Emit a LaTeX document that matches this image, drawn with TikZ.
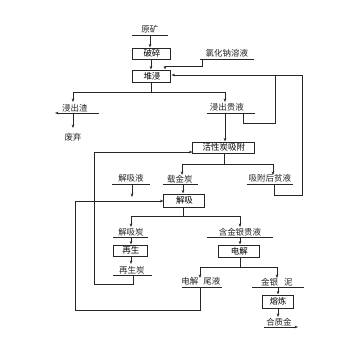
\documentclass[tikz,border=0pt]{standalone}
\usepackage{fontspec}
\newfontfamily\cjk{Noto Sans CJK SC}
\usetikzlibrary{arrows.meta}
\begin{document}
\begin{tikzpicture}[x=1pt,y=-1pt,
  ln/.style={line width=0.6pt, draw=black!85},
  ar/.style={ln, -{Stealth[length=3.5pt,width=2.6pt]}},
  bx/.style={draw=black!85, line width=1pt, inner sep=0, font=\cjk\fontsize{8.5}{9}\selectfont},
  tx/.style={inner sep=0, font=\cjk\fontsize{8.5}{9}\selectfont, text=black!85}]
\fill[white] (0,0) rectangle (360,360);
\useasboundingbox (0,0) rectangle (360,360);
% boxes
\node[bx, minimum width=38pt, minimum height=11pt] (crush) at (152,53.5) {破碎};
\node[bx, minimum width=38pt, minimum height=12pt] (heap) at (152,76) {堆浸};
\node[bx, minimum width=62pt, minimum height=11pt] (ads) at (224,147.5) {活性炭吸附};
\node[bx, minimum width=41pt, minimum height=13pt] (desorb) at (184.5,200.5) {解吸};
\node[bx, minimum width=34pt, minimum height=11pt] (regen) at (131,250.5) {再生};
\node[bx, minimum width=41pt, minimum height=12pt] (elec) at (239.5,251) {电解};
\node[bx, minimum width=31pt, minimum height=13pt] (smelt) at (278,301.5) {熔炼};
% labels
\node[tx] (ore) at (150,29) {原矿};
\node[tx] (nacl) at (227,53) {氯化钠溶液};
\node[tx] (slag) at (75,108) {浸出渣};
\node[tx] (waste) at (73,137) {废弃};
\node[tx] (preg) at (227,107) {浸出贵液};
\node[tx] (loaded) at (180,179) {载金炭};
\node[tx] (barren) at (270,178) {吸附后贫液};
\node[tx] (elu) at (131,178) {解吸液};
\node[tx] (strip) at (131,232) {解吸炭};
\node[tx] (regc) at (132,270) {再生炭};
\node[tx] (pau) at (240,232) {含金银贵液};
\node[tx] (tail) at (201,281) {电解\hspace{5pt}尾液};
\node[tx] (sludge) at (277,282) {金银\hspace{6pt}泥};
\node[tx] (bull) at (279,322) {合质金};
% underlines
\coordinate (oreL) at (132,35); \coordinate (oreR) at (168,35);
\coordinate (naclL) at (200,59); \coordinate (naclR) at (254,59);
\coordinate (slagL) at (55,113); \coordinate (slagR) at (99,113);
\coordinate (pregL) at (207,113); \coordinate (pregR) at (255,113);
\coordinate (loadL) at (163,184); \coordinate (loadR) at (198,184);
\coordinate (barL) at (247,184); \coordinate (barR) at (293,184);
\coordinate (eluL) at (112,184); \coordinate (eluR) at (150,184);
\coordinate (stripL) at (113,237); \coordinate (stripR) at (148,237);
\coordinate (regcL) at (113,275); \coordinate (regcR) at (152,275);
\coordinate (pauL) at (207,237); \coordinate (pauR) at (273,237);
\coordinate (tailL) at (182,287); \coordinate (tailR) at (222,287);
\coordinate (sludL) at (252,287); \coordinate (sludR) at (304,287);
\coordinate (bullL) at (264,327); \coordinate (bullR) at (298,327);
\foreach \a/\b in {oreL/oreR,naclL/naclR,pregL/pregR,loadL/loadR,barL/barR,eluL/eluR,stripL/stripR,regcL/regcR,pauL/pauR,tailL/tailR,sludL/sludR}
  \draw[ln] (\a) -- (\b);
\draw[ar] (slagR) -- (slagL);
\draw[ar] (bullL) -- (bullR);
% main flow
\draw[ar] (150,35) -- (crush.north -| 150,0);
\draw[ar] (crush.south -| 151,0) -- (heap.north -| 151,0);
\draw[ar] (202,59) -- (202,66) -- (165,66) -- (heap.north -| 165,0);
\coordinate (split1) at (151,92);
\draw[ln] (heap.south -| split1) -- (split1);
\draw[ar] (73,92) -- (225,92) -- (225,102);
\draw[ar] (225,92) -- (73,92) -- (73,102);
\draw[ar] (73,113) -- (73,128);
% recycle of leach liquor and barren solution
\draw[ar] (243,113) -- (243,123) -- (275,123) -- (275,75) -- (heap.east |- 0,75);
\draw[ln] (274,184) -- (274,195) -- (302,195) -- (302,75) -- (275,75);
% adsorption
\draw[ar] (225,113) -- (ads.north -| 225,0);
\coordinate (split2) at (224,164);
\draw[ln] (ads.south -| split2) -- (split2);
\draw[ar] (182,164) -- (273,164) -- (273,175);
\draw[ar] (273,164) -- (182,164) -- (182,175);
\draw[ar] (183,184) -- (desorb.north -| 183,0);
% eluent and electrolyte return into desorption
\draw[ar] (132,184) -- (132,197);
\draw[ar] (75,201) -- (desorb.west |- 0,201);
\draw[ln] (200,287) -- (200,310) -- (75,310) -- (75,201);
% desorption split
\coordinate (split3) at (183,216);
\draw[ln] (desorb.south -| split3) -- (split3);
\draw[ar] (131,216) -- (240,216) -- (240,227);
\draw[ar] (240,216) -- (131,216) -- (131,227);
\draw[ar] (131,237) -- (regen.north);
\draw[ar] (regen.south) -- (131,264);
% regenerated carbon back to adsorption
\draw[ar] (133,275) -- (133,284) -- (94,284) -- (94,152) -- (ads.west |- 0,152);
% electrolysis
\draw[ar] (240,237) -- (elec.north -| 240,0);
\coordinate (split4) at (240,267);
\draw[ln] (elec.south -| split4) -- (split4);
\draw[ar] (200,267) -- (277,267) -- (277,278);
\draw[ar] (277,267) -- (200,267) -- (200,278);
\draw[ar] (278,287) -- (smelt.north -| 278,0);
\draw[ar] (smelt.south -| 278,0) -- (278,317);
\end{tikzpicture}
\end{document}
